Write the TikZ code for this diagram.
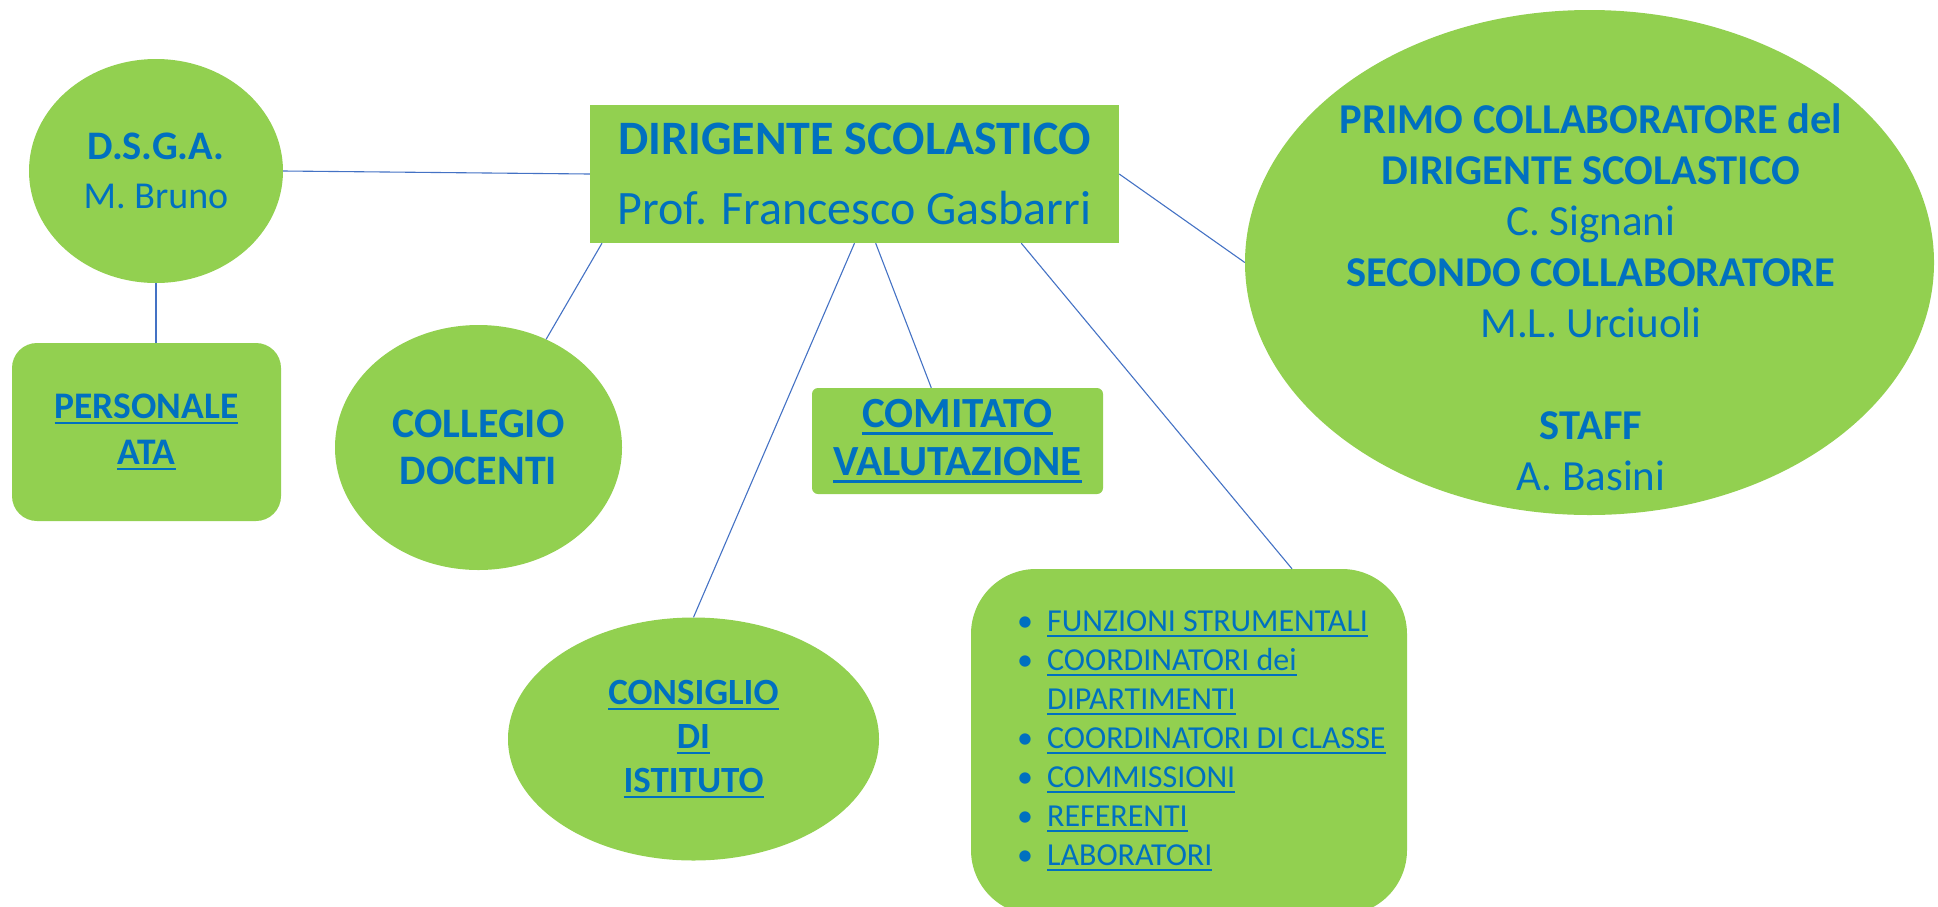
\documentclass[tikz,border=0pt]{standalone}
\usepackage{fontspec}
\setmainfont{Carlito}
\usepackage{tikz}
\usetikzlibrary{shapes.geometric,calc}
\definecolor{orgfill}{HTML}{92D050}
\definecolor{orgtext}{HTML}{0070C0}
\definecolor{orgline}{HTML}{4472C4}
\newsavebox\ulbox
\newcommand{\ulin}[1]{\sbox\ulbox{#1}\rlap{\vrule height -0.1em depth 0.17em width \wd\ulbox}\usebox\ulbox}

\begin{document}
\begin{tikzpicture}[x=1pt, y=-1pt,
  every node/.style={text=orgtext, align=center, inner sep=0pt},
  greenell/.style={ellipse, fill=orgfill},
  greenbox/.style={rectangle, fill=orgfill},
  link/.style={draw=orgline, line width=1.1pt}]
  \useasboundingbox (0,0) rectangle (1938,906);
  \node[greenbox, minimum width=529pt, minimum height=138pt,
    font=\fontsize{48}{70}\selectfont] (dirigente) at (854.5,174)
    {\textbf{DIRIGENTE SCOLASTICO}\\Prof. Francesco Gasbarri};
  \node[greenell, minimum width=254pt, minimum height=224pt,
    font=\fontsize{38}{49}\selectfont] (dsga) at (156,171)
    {{\bfseries\fontsize{40.5}{49}\selectfont D.S.G.A.}\\M. Bruno};
  \node[greenbox, rounded corners=25pt, minimum width=269pt, minimum height=178pt,
    font=\bfseries\fontsize{37.5}{46}\selectfont] (ata) at (146.5,432)
    {\ulin{PERSONALE}\\\ulin{ATA}};
  \node[greenell, minimum width=287pt, minimum height=245pt,
    font=\bfseries\fontsize{42}{47}\selectfont] (collegio) at (478.5,447.5)
    {COLLEGIO\\DOCENTI};
  \node[greenbox, rounded corners=6pt, minimum width=291pt, minimum height=106pt,
    font=\bfseries\fontsize{43}{48}\selectfont] (comitato) at (957.5,441)
    {\ulin{COMITATO}\\\ulin{VALUTAZIONE}};
  \node[greenell, minimum width=371pt, minimum height=243pt,
    font=\bfseries\fontsize{37}{44}\selectfont] (consiglio) at (693.5,739)
    {\ulin{CONSIGLIO}\\\ulin{DI}\\\ulin{ISTITUTO}};
  \node[greenbox, rounded corners=65pt, minimum width=436pt, minimum height=346pt]
    (incarichi) at (1189,742) {};
  \node[anchor=north west, font=\fontsize{32}{39}\selectfont] (elenco) at (1017,604)
    {\begin{tabular}{@{}l@{\hspace{14pt}}l@{}}
      \textbullet & \ulin{FUNZIONI STRUMENTALI}\\
      \textbullet & \ulin{COORDINATORI dei}\\
                  & \ulin{DIPARTIMENTI}\\
      \textbullet & \ulin{COORDINATORI DI CLASSE}\\
      \textbullet & \ulin{COMMISSIONI}\\
      \textbullet & \ulin{REFERENTI}\\
      \textbullet & \ulin{LABORATORI}
    \end{tabular}};
  \node[greenell, minimum width=689pt, minimum height=505pt] (collab) at (1589.5,262.5) {};
  \node[font=\fontsize{43}{51}\selectfont] (collabtxt) at (1591,297)
    {\textbf{\fontsize{42.5}{51}\selectfont PRIMO COLLABORATORE del}\\
     \textbf{\fontsize{42.5}{51}\selectfont DIRIGENTE SCOLASTICO}\\C. Signani\\
     \textbf{\fontsize{42.5}{51}\selectfont SECONDO COLLABORATORE}\\M.L. Urciuoli\\[51pt]
     \textbf{\fontsize{42.5}{51}\selectfont STAFF}\\A. Basini};
  \draw[link] (dsga.east) -- (dirigente.west);
  \draw[link] (dsga.south) -- (dsga.south |- ata.north);
  \draw[link] ($(dirigente.south west)!0.023!(dirigente.south east)$) -- (collegio.58);
  \draw[link] (dirigente.south) -- (consiglio.north);
  \draw[link] ($(dirigente.south west)!0.54!(dirigente.south east)$)
    -- ($(comitato.north west)!0.41!(comitato.north east)$);
  \draw[link] ($(dirigente.south west)!0.815!(dirigente.south east)$)
    -- ($(incarichi.north west)!0.736!(incarichi.north east)$);
  \draw[link] (dirigente.east) -- (collab.west);
\end{tikzpicture}
\end{document}
